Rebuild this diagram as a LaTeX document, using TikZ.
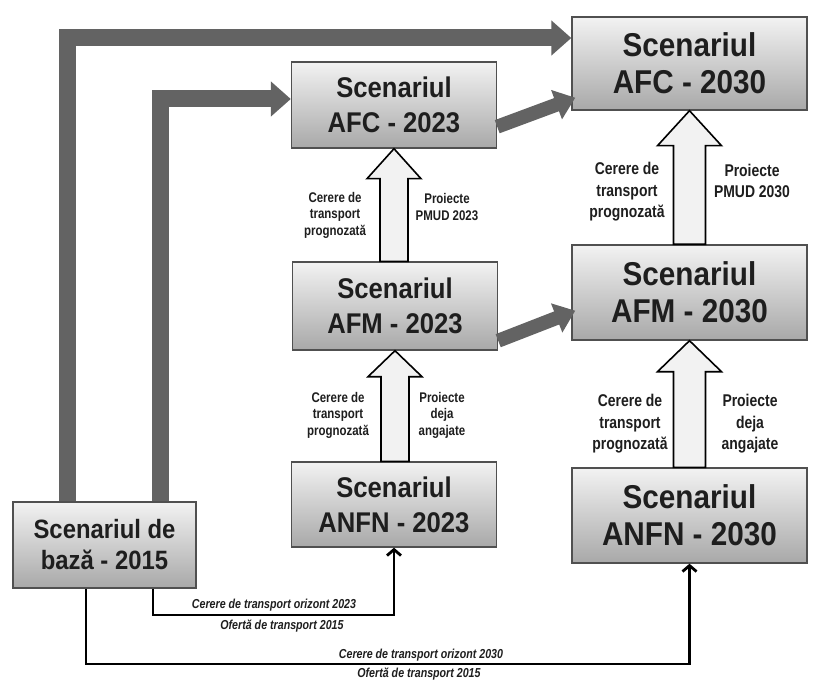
\documentclass[tikz,border=0pt]{standalone}
\usepackage{fontspec}
\setmainfont{Liberation Sans}
\newfontfamily\boxfont{Liberation Sans}[FakeStretch=0.9]
\newfontfamily\lblfont{Liberation Sans}[FakeStretch=0.82]
\usetikzlibrary{arrows.meta,calc}

\definecolor{boxline}{HTML}{505050}
\definecolor{thickgray}{HTML}{636363}
\definecolor{txt}{HTML}{1E1E1E}
\definecolor{hollowfill}{HTML}{F2F2F2}

\tikzset{
  scen/.style={draw=boxline, line width=1.4pt, top color=black!5, middle color=black!14, bottom color=black!34,
    inner sep=0pt, align=center, text=txt},
  s23/.style={scen, minimum width=205pt, minimum height=86pt, font=\boxfont\bfseries\fontsize{28.5}{35}\selectfont},
  s30/.style={scen, minimum width=235pt, minimum height=94pt, font=\boxfont\bfseries\fontsize{33}{37}\selectfont},
  sbase/.style={scen, minimum width=183pt, minimum height=86pt, font=\boxfont\bfseries\fontsize{26.5}{31}\selectfont},
  thickarr/.style={draw=thickgray, line width=17pt, line join=miter, -{Triangle[length=20pt,width=34pt]}},
  diagarr/.style={draw=thickgray, line width=14pt, -{Triangle[length=20pt,width=30pt]}},
  thinarr/.style={draw=black, line width=2.8pt, line join=miter, -{Straight Barb[length=6pt,width=14pt]}},
  hollow/.style={draw=black, line width=1.6pt, fill=hollowfill, line join=miter},
  lbl/.style={font=\lblfont\bfseries\fontsize{14}{16.5}\selectfont, align=center, inner sep=0pt, text=txt},
  lblbig/.style={font=\lblfont\bfseries\fontsize{17}{21.5}\selectfont, align=center, inner sep=0pt, text=txt},
  flow/.style={font=\lblfont\bfseries\itshape\fontsize{13}{15}\selectfont, inner sep=0pt, text=txt}
}

\newcommand{\hollowarrow}[5]{%
  \draw[hollow] let \p1=(#1.north), \p2=(#2.south) in
    ({\x2-#3pt},\y1) -- ({\x2-#3pt},{\y2-#5pt}) -- ({\x2-#4pt},{\y2-#5pt}) -- (\x2,\y2)
    -- ({\x2+#4pt},{\y2-#5pt}) -- ({\x2+#3pt},{\y2-#5pt}) -- ({\x2+#3pt},\y1) -- cycle;}

\begin{document}
\begin{tikzpicture}[x=1pt,y=-1pt]
\useasboundingbox[fill=white] (0,0) rectangle (838,695);

% boxes
\node[s23] (afc23) at (394,105) {Scenariul\\AFC - 2023};
\node[s23, minimum height=88pt] (afm23) at (395,306) {Scenariul\\AFM - 2023};
\node[s23, minimum height=85pt] (anfn23) at (394,504.5) {Scenariul\\ANFN - 2023};
\node[s30, minimum height=93pt] (afc30) at (689.5,63.5) {Scenariul\\AFC - 2030};
\node[s30, minimum height=95pt] (afm30) at (689.5,292.5) {Scenariul\\AFM - 2030};
\node[s30, minimum height=95pt] (anfn30) at (689.5,515.5) {Scenariul\\ANFN - 2030};
\node[sbase] (base) at (104.5,545) {Scenariul de\\bază - 2015};

% thick grey arrows
\coordinate (oc) at (67,38);
\coordinate (ic) at (160,99);
\draw[thickarr] (base.north -| oc) -- (oc) -- (oc -| afc30.west);
\draw[thickarr] (base.north -| ic) -- (ic) -- (ic -| afc23.west);
\draw[diagarr] ([yshift=22pt]afc23.south east) -- ([xshift=4pt,yshift=13pt]afc30.south west);
\draw[diagarr] ([yshift=10pt]afm23.south east) -- ([xshift=4pt,yshift=30pt]afm30.south west);

% hollow block arrows
\hollowarrow{afm23}{afc23}{14}{27}{30}
\hollowarrow{anfn23}{afm23}{14}{27}{26}
\hollowarrow{afm30}{afc30}{16}{32}{35}
\hollowarrow{anfn30}{afm30}{16}{32}{31}

% labels of block arrows
\node[lbl] (l1) at (335,215) {Cerere de\\transport\\prognozată};
\node[lbl] (r1) at (447,207) {Proiecte\\PMUD 2023};
\node[lbl] (l2) at (338,415) {Cerere de\\transport\\prognozată};
\node[lbl] (r2) at (442,415) {Proiecte\\deja\\angajate};
\node[lblbig] (l3) at (627,192) {Cerere de\\transport\\prognozată};
\node[lblbig] (r3) at (752,181) {Proiecte\\PMUD 2030};
\node[lblbig] (l4) at (630,424) {Cerere de\\transport\\prognozată};
\node[lblbig] (r4) at (750,424) {Proiecte\\deja\\angajate};

% thin black arrows
\coordinate (t1) at (153,615);
\coordinate (t2) at (86,664);
\draw[thinarr] (base.south -| t1) -- (t1) -- (t1 -| anfn23.south) -- (anfn23.south);
\draw[thinarr] (base.south -| t2) -- (t2) -- (t2 -| anfn30.south) -- (anfn30.south);

\node[flow] (f1) at (274,605) {Cerere de transport orizont 2023};
\node[flow] (f2) at (282,626) {Ofertă de transport 2015};
\node[flow] (f3) at (421,655) {Cerere de transport orizont 2030};
\node[flow] (f4) at (419,674) {Ofertă de transport 2015};
\end{tikzpicture}
\end{document}
